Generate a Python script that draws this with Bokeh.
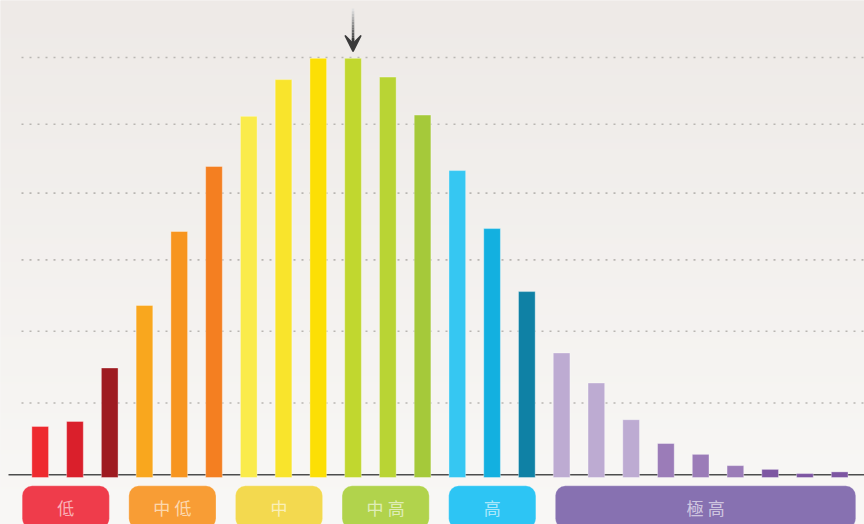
import numpy as np
from bokeh.plotting import figure
from bokeh.models import Range1d, Arrow, VeeHead, ColumnDataSource
from bokeh.core.properties import value
from bokeh.embed import file_html
from bokeh.resources import INLINE

# ---- data -------------------------------------------------------------
# relative frequency of each score band (peak band = 100)
band_values = [11.6, 12.8, 25.6, 40.6, 58.3, 73.9, 85.9, 94.7, 99.8, 99.8, 95.3, 86.2,
               72.9, 59.0, 43.9, 29.2, 22.0, 13.2, 7.5, 4.9, 2.2, 1.3, 0.3, 0.7]

# level groups shown under the bars and how many bands each covers
groups = ["低", "中低", "中", "中高", "高", "極高"]
group_sizes = [3, 3, 3, 3, 3, 9]

# dotted reference lines
grid_levels = [17.2, 34.4, 51.5, 67.5, 84.0, 100.0]

# band marked by the arrow
highlight_index = 9

# ---- styling ------------------------------------------------------------
bar_colors = ["#ee2a2f", "#da1f2b", "#9e1b21",
              "#f9a71e", "#f7951f", "#f47f21",
              "#faeb4b", "#f9e42c", "#fcdf05",
              "#c1d72f", "#b9d434", "#a5c93a",
              "#36c7f2", "#13b0e0", "#0f81a5",
              "#bdabd2", "#bdabd2", "#bdabd2",
              "#9b7cb8", "#9b7cb8", "#9b7cb8",
              "#7d56a2", "#7d56a2", "#7d56a2"]
group_colors = ["#ef3c4b", "#f89d35", "#f3d94f", "#b1d34c", "#2dc5f4", "#8771b1"]

W, H = 864, 524
X0, X1 = -1.142, 23.714
Y0, Y1 = -11.91, 113.66


def px_x(px):
    return X0 + (X1 - X0) * px / W


def px_y(py):
    return Y1 - (Y1 - Y0) * py / H


p = figure(width=W, height=H, x_range=Range1d(X0, X1), y_range=Range1d(Y0, Y1),
           output_backend="svg", toolbar_location=None, min_border=0,
           outline_line_color=None, background_fill_color="#f3f1ef",
           border_fill_color="#f3f1ef")
p.axis.visible = False
p.grid.visible = False

# soft vertical background gradient
top_rgb = np.array([238, 234, 231])
bot_rgb = np.array([249, 248, 246])
n_rows = 256
t = np.linspace(0, 1, n_rows)[:, None]
rgb = (bot_rgb * (1 - t) + top_rgb * t).astype(np.uint8)
img = np.zeros((n_rows, 1, 4), dtype=np.uint8)
img[:, 0, :3] = rgb
img[:, 0, 3] = 255
pad = 0.2
p.image_rgba(image=[img.view(np.uint32).reshape(n_rows, 1)], x=X0 - pad, y=Y0 - pad,
             dw=X1 - X0 + 2 * pad, dh=Y1 - Y0 + 2 * pad)

# dotted reference lines
grid_x0 = px_x(21)
p.segment(x0=[grid_x0] * len(grid_levels), x1=[X1] * len(grid_levels),
          y0=grid_levels, y1=grid_levels, line_color="#b9b6b2",
          line_width=1.6, line_dash="2 6")

# baseline
p.segment(x0=[px_x(8)], x1=[X1], y0=[0], y1=[0], line_color="#4d4d4d", line_width=1.5)

# bars (they sit a few pixels below the baseline)
bar_bottom = px_y(477)
src = ColumnDataSource(dict(x=list(range(len(band_values))), top=band_values,
                            color=bar_colors))
p.vbar(x="x", top="top", bottom=bar_bottom, width=0.48, source=src,
       fill_color="color", line_color="white", line_alpha=0.35, line_width=1)

# arrow over the highlighted band, shaft fading from light to dark
shaft_top, shaft_bot = px_y(8), px_y(40)
n_seg = 12
ys = np.linspace(shaft_top, shaft_bot, n_seg + 1)
shades = np.linspace(225, 60, n_seg).astype(int)
p.segment(x0=[highlight_index] * n_seg, x1=[highlight_index] * n_seg,
          y0=list(ys[:-1]), y1=list(ys[1:]),
          line_color=["#%02x%02x%02x" % (s, s, s) for s in shades], line_width=2.5)
p.add_layout(Arrow(x_start=highlight_index, y_start=px_y(38),
                   x_end=highlight_index, y_end=px_y(51),
                   line_color="#3a3a3a", line_width=2.5,
                   end=VeeHead(size=16, fill_color="#3a3a3a", line_color="#3a3a3a",
                               line_width=1.5)))

# group label boxes
slot, gap, start_x = 1.0225, 0.56, -0.518
lefts, rights, centers = [], [], []
start = 0
for n in group_sizes:
    l = start_x + slot * start
    r = start_x + slot * (start + n) - gap
    lefts.append(l)
    rights.append(r)
    centers.append((l + r) / 2)
    start += n

box_top, box_bot = px_y(485.3), px_y(528)
p.quad(left=lefts, right=rights, top=box_top, bottom=box_bot,
       fill_color=group_colors, line_color="white", line_alpha=0.25, line_width=1,
       border_radius=10)

labels = ["\u2005".join(list(g)) for g in groups]
p.text(x=centers, y=[px_y(507)] * len(groups), text=labels,
       text_font=value("Noto Sans CJK TC"), text_font_size="17px",
       text_color="white", text_alpha=0.62, text_align="center",
       text_baseline="middle")

open("out.html", "w").write(file_html(p, INLINE))
